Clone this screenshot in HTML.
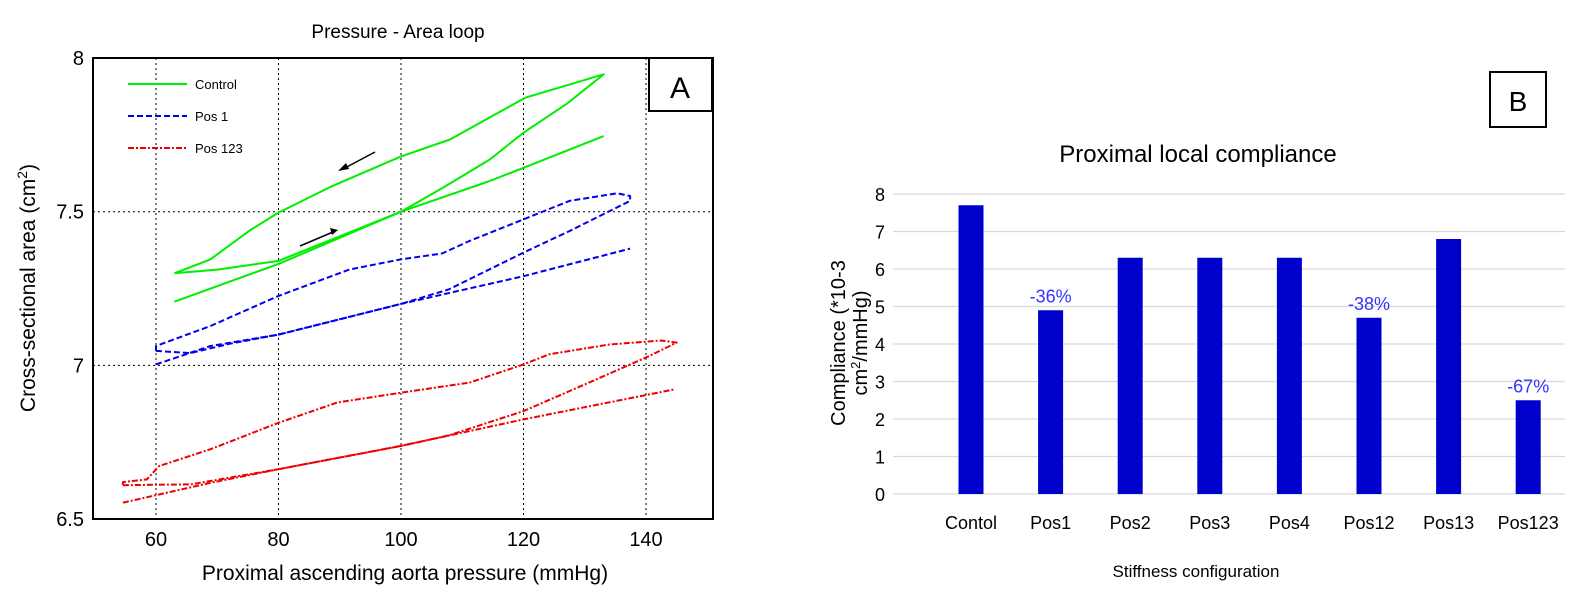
<!DOCTYPE html>
<html><head><meta charset="utf-8"><style>
body{margin:0;background:#fff;width:1571px;height:593px;overflow:hidden;font-family:"Liberation Sans",Arial,sans-serif}
</style></head><body>
<svg id="svg" width="1571" height="593" xmlns="http://www.w3.org/2000/svg" font-family="Liberation Sans, Arial, sans-serif">
<g id="left"></g>
<g id="right"></g>
</svg>
<script>
// ---- Panel A data ----
const xTicksA = [60, 80, 100, 120, 140];
const yTicksA = [6.5, 7, 7.5, 8];
const yTickLabelsA = ["6.5", "7", "7.5", "8"];
const controlStraight = [[63,7.207],[80,7.33],[100,7.50],[114.5,7.60],[120,7.643],[133.1,7.746]];
const controlLoop = [[63,7.30],[70.2,7.312],[80,7.34],[90,7.42],[100,7.50],[107,7.58],[114.5,7.67],[120,7.757],[127,7.85],[133.1,7.947],[120.3,7.871],[108,7.735],[100,7.68],[88.4,7.58],[80,7.497],[75.4,7.44],[68.9,7.345],[64.4,7.31],[63,7.30]];
const pos1Straight = [[60,7.003],[68.9,7.063],[80,7.10],[100,7.20],[120,7.29],[137.4,7.38]];
const pos1Loop = [[60,7.047],[65.6,7.04],[72,7.07],[80,7.10],[90,7.15],[100,7.20],[107.8,7.247],[120,7.367],[127.5,7.437],[137.4,7.535],[137.4,7.551],[135.3,7.56],[127.5,7.535],[120,7.475],[111.2,7.405],[106.7,7.364],[100,7.345],[91.6,7.312],[80,7.226],[68.9,7.128],[60,7.063],[60,7.047]];
const pos123Straight = [[54.6,6.553],[69,6.618],[80,6.662],[100,6.738],[120,6.824],[144.7,6.922]];
const pos123Loop = [[54.6,6.61],[65.8,6.613],[80,6.662],[100,6.738],[107.8,6.772],[120,6.851],[130.7,6.944],[140.5,7.03],[145,7.074],[142.5,7.081],[134,7.068],[124.2,7.036],[120,7.003],[111.2,6.944],[100,6.911],[89.6,6.879],[80,6.813],[68.9,6.727],[60.5,6.672],[58.5,6.629],[54.6,6.62],[54.6,6.61]];
// ---- Panel B data ----
const categories = ["Contol","Pos1","Pos2","Pos3","Pos4","Pos12","Pos13","Pos123"];
const compliance = [7.7, 4.9, 6.3, 6.3, 6.3, 4.7, 6.8, 2.5];
const pctLabels = ["", "-36%", "", "", "", "-38%", "", "-67%"];
const yTicksB = [0,1,2,3,4,5,6,7,8];

const NS="http://www.w3.org/2000/svg";
function mk(tag, attrs, parent, text){const e=document.createElementNS(NS,tag);for(const k in attrs)e.setAttribute(k,attrs[k]);if(text!==undefined)e.textContent=text;parent.appendChild(e);return e;}

// Panel A
const L=document.getElementById('left');
const ax=p=>156+(p-60)*6.125;
const ay=a=>519-(a-6.5)*307.3;
const bx0=93,bx1=713,by0=58,by1=519;
xTicksA.forEach(t=>{const l=mk('line',{x1:ax(t),x2:ax(t),y1:by0,y2:by1,stroke:'#000','stroke-width':1,'stroke-dasharray':'2,3'},L);

const tx=mk('text',{x:ax(t),y:546,'font-size':20,'text-anchor':'middle'},L,String(t));
});
yTicksA.forEach((t,i)=>{if(t>6.5&&t<8){const l=mk('line',{x1:bx0,x2:bx1,y1:ay(t),y2:ay(t),stroke:'#000','stroke-width':1,'stroke-dasharray':'2,3'},L);
}
const tx=mk('text',{x:84,y:ay(t)+7,'font-size':20,'text-anchor':'end'},L,yTickLabelsA[i]);
});
function path(pts,color,dash,name){const d=pts.map((p,i)=>(i?'L':'M')+ax(p[0]).toFixed(1)+','+ay(p[1]).toFixed(1)).join('');
const e=mk('path',{d:d,fill:'none',stroke:color,'stroke-width':2,'stroke-dasharray':dash,'stroke-linejoin':'round'},L);
}
path(controlStraight,'#00ee00','none','control-line');
path(controlLoop,'#00ee00','none','control-loop');
path(pos1Straight,'#0000ee','6,3','pos1-line');
path(pos1Loop,'#0000ee','6,3','pos1-loop');
path(pos123Straight,'#ee0000','6,2,2,2','pos123-line');
path(pos123Loop,'#ee0000','6,2,2,2','pos123-loop');
const fr=mk('rect',{x:bx0,y:by0,width:bx1-bx0,height:by1-by0,fill:'none',stroke:'#000','stroke-width':2},L);

</script>
<script>
(function(){
const L=document.getElementById('left');
function mk(tag, attrs, parent, text){const e=document.createElementNS("http://www.w3.org/2000/svg",tag);for(const k in attrs)e.setAttribute(k,attrs[k]);if(text!==undefined)e.innerHTML=text;parent.appendChild(e);return e;}
const leg=[['Control','#00ee00','none',84],['Pos 1','#0000ee','6,3',116],['Pos 123','#ee0000','6,2,2,2',148]];
leg.forEach(l=>{const ln=mk('line',{x1:128,x2:187,y1:l[3],y2:l[3],stroke:l[1],'stroke-width':2,'stroke-dasharray':l[2]},L);

const t=mk('text',{x:195,y:l[3]+5,'font-size':13},L,l[0]);
});
const a1=mk('g',{},L);
mk('line',{x1:375,y1:152,x2:343,y2:169,stroke:'#000','stroke-width':1.5},a1);
mk('polygon',{points:'338,171 346,163 349,169',fill:'#000'},a1);
const a2=mk('g',{},L);
mk('line',{x1:300,y1:246,x2:333,y2:232,stroke:'#000','stroke-width':1.5},a2);
mk('polygon',{points:'338,230 330,228 332,235',fill:'#000'},a2);
const ab=mk('g',{},L);
mk('rect',{x:649,y:58,width:63,height:53,fill:'#fff',stroke:'#000','stroke-width':2},ab);
mk('text',{x:680,y:98,'font-size':30,'text-anchor':'middle'},ab,'A');
mk('text',{x:398,y:38,'font-size':19,'text-anchor':'middle',},L,'Pressure - Area loop');
mk('text',{x:405,y:580,'font-size':21,'text-anchor':'middle',},L,'Proximal ascending aorta pressure (mmHg)');
mk('text',{x:0,y:0,'font-size':21,'text-anchor':'middle',transform:'translate(35,288) rotate(-90)',},L,'Cross-sectional area (cm<tspan dy="-8" font-size="14">2</tspan><tspan dy="8">)</tspan>');
})();
</script>
<script>
(function(){
const R=document.getElementById('right');
const NS="http://www.w3.org/2000/svg";
function mk(tag, attrs, parent, text){const e=document.createElementNS(NS,tag);for(const k in attrs)e.setAttribute(k,attrs[k]);if(text!==undefined)e.innerHTML=text;parent.appendChild(e);return e;}
const by=v=>494-v*37.5;
const bxc=i=>971+i*79.6;
yTicksB.forEach(t=>{const g=mk('line',{x1:893,x2:1565,y1:by(t),y2:by(t),stroke:'#d9d9d9','stroke-width':1.2},R);

const tx=mk('text',{x:885,y:by(t)+7,'font-size':18,'text-anchor':'end'},R,String(t));
});
categories.forEach((c,i)=>{const b=mk('rect',{x:bxc(i)-12.5,y:by(compliance[i]),width:25,height:by(0)-by(compliance[i]),fill:'#0000cc'},R);

const tx=mk('text',{x:bxc(i),y:529,'font-size':18,'text-anchor':'middle'},R,c);

if(pctLabels[i]){const p=mk('text',{x:bxc(i),y:by(compliance[i])-8,'font-size':18,'text-anchor':'middle',fill:'#3333ff'},R,pctLabels[i]);
}});
mk('text',{x:1198,y:162,'font-size':24,'text-anchor':'middle',},R,'Proximal local compliance');
mk('text',{x:1196,y:577,'font-size':17,'text-anchor':'middle',},R,'Stiffness configuration');
mk('text',{x:0,y:0,'font-size':20,'text-anchor':'middle',transform:'translate(845,343) rotate(-90)',},R,'Compliance (*10-3');
mk('text',{x:0,y:0,'font-size':20,'text-anchor':'middle',transform:'translate(867,343) rotate(-90)',},R,'cm<tspan dy="-7" font-size="13">2</tspan><tspan dy="7">/mmHg)</tspan>');
const bb=mk('g',{},R);
mk('rect',{x:1490,y:72,width:56,height:55,fill:'#fff',stroke:'#000','stroke-width':2},bb);
mk('text',{x:1518,y:111,'font-size':28,'text-anchor':'middle'},bb,'B');
})();
</script>
</body></html>
